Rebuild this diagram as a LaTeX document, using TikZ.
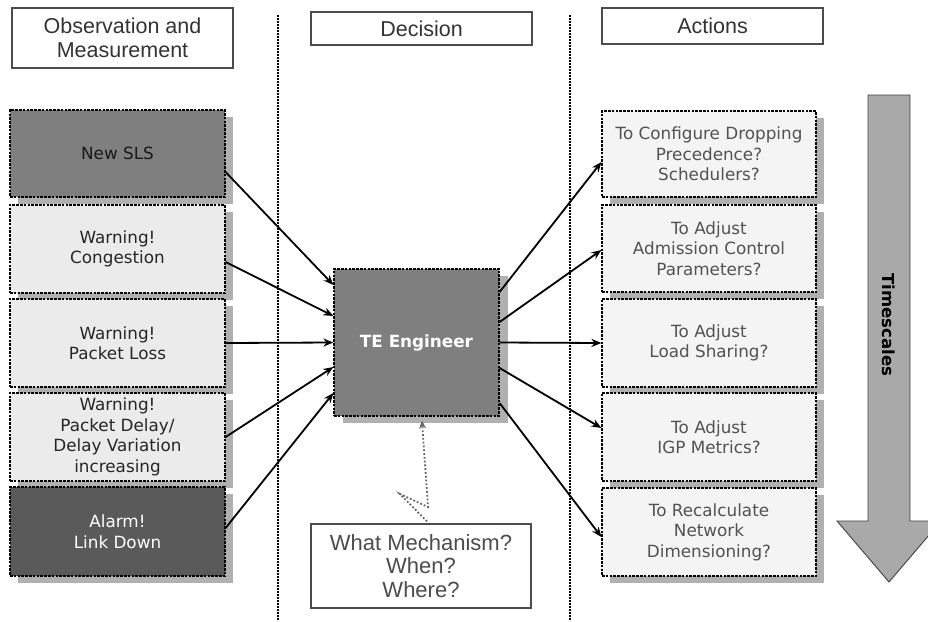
\documentclass[tikz,border=0pt]{standalone}
\usepackage{fontspec}
\setmainfont{DejaVu Sans}
\newfontfamily\hdrfont{Liberation Sans}
\usetikzlibrary{arrows.meta,shadows}
\definecolor{midgray}{HTML}{7F7F7F}
\definecolor{darkbox}{HTML}{5A5A5A}
\definecolor{lightbox}{HTML}{EBEBEB}
\definecolor{paleBox}{HTML}{F4F4F4}
\definecolor{shadowgray}{HTML}{B0B0B0}
\definecolor{arrowgray}{HTML}{A9A9A9}
\tikzset{
  hdr/.style={draw=black!70, line width=1.2pt, fill=white, align=center, inner sep=0pt,
    text=black!80, font=\hdrfont\fontsize{21.5}{24}\selectfont},
  dashbox/.style={draw=black, dash pattern=on 2.6pt off 1.2pt, line width=1.2pt,
    align=center, inner sep=0pt, font=\fontsize{16.8}{20.5}\selectfont,
    drop shadow={shadow xshift=8pt, shadow yshift=-7pt, fill=shadowgray, opacity=1}},
  obsbox/.style={dashbox, minimum width=215pt},
  actbox/.style={dashbox, minimum width=214pt, fill=paleBox, text=black!68},
  divider/.style={draw=black, line width=2pt, dash pattern=on 2pt off 1pt},
  feed/.style={draw=black, line width=1.8pt, -{Stealth[length=10pt,width=8pt]}},
}
\begin{document}
\begin{tikzpicture}[x=1pt,y=-1pt]
\useasboundingbox (0,0) rectangle (928,621);

% column headings
\node[hdr, minimum width=221pt, minimum height=60pt] (hobs) at (122.5,38) {Observation and\\Measurement};
\node[hdr, minimum width=221pt, minimum height=33pt] (hdec) at (421.5,28.5) {Decision};
\node[hdr, minimum width=221pt, minimum height=36pt] (hact) at (712.5,26) {Actions};

% column separators
\draw[divider] (278,15) -- (278,621);
\draw[divider] (570,15) -- (570,621);

% observation and measurement events
\node[obsbox, fill=midgray, text=black!90, minimum height=87pt] (o1) at (117.5,153.5) {New SLS};
\node[obsbox, fill=lightbox, text=black!85, minimum height=88pt] (o2) at (117.5,249) {Warning!\\Congestion};
\node[obsbox, fill=lightbox, text=black!85, minimum height=88pt] (o3) at (117.5,343) {Warning!\\Packet Loss};
\node[obsbox, fill=lightbox, text=black!85, minimum height=88pt] (o4) at (117.5,437) {Warning!\\Packet Delay/\\Delay Variation\\increasing};
\node[obsbox, fill=darkbox, text=white, minimum height=89pt] (o5) at (117.5,531.5) {Alarm!\\Link Down};

% decision maker
\node[draw=black, dash pattern=on 2.6pt off 1.2pt, line width=1.2pt, fill=midgray,
  minimum width=165pt, minimum height=147pt, inner sep=0pt, text=white,
  font=\bfseries\fontsize{16.8}{20}\selectfont,
  drop shadow={shadow xshift=9pt, shadow yshift=-7pt, fill=shadowgray, opacity=1}]
  (te) at (416.5,342.5) {TE Engineer};

\node[draw=black!70, line width=1.2pt, fill=white, minimum width=220pt, minimum height=84pt,
  inner sep=0pt, align=center, text=black!70, font=\hdrfont\fontsize{22}{23.5}\selectfont]
  (mech) at (421,566) {What Mechanism?\\When?\\Where?};

% possible actions
\node[actbox, minimum height=86pt] (a1) at (709,154) {To Configure Dropping\\Precedence?\\Schedulers?};
\node[actbox, minimum height=87pt] (a2) at (709,248.5) {To Adjust\\Admission Control\\Parameters?};
\node[actbox, minimum height=88pt] (a3) at (709,343) {To Adjust\\Load Sharing?};
\node[actbox, minimum height=88pt] (a4) at (709,437) {To Adjust\\IGP Metrics?};
\node[actbox, minimum height=88pt] (a5) at (709,532) {To Recalculate\\Network\\Dimensioning?};

% inputs to the engineer
\draw[feed] ([yshift=-18.5pt]o1.east) -- ([yshift=57.5pt]te.west);
\draw[feed] ([yshift=-13pt]o2.east) -- ([yshift=26.5pt]te.west);
\draw[feed] (o3.east) -- (te.west);
\draw[feed] (o4.east) -- ([yshift=-24.5pt]te.west);
\draw[feed] ([yshift=3.5pt]o5.east) -- ([yshift=-50.5pt]te.west);

% outputs to the actions
\draw[feed] ([yshift=50.5pt]te.east) -- ([yshift=-8pt]a1.west);
\draw[feed] ([yshift=20.5pt]te.east) -- ([yshift=-1.5pt]a2.west);
\draw[feed] (te.east) -- (a3.west);
\draw[feed] ([yshift=-25.5pt]te.east) -- ([yshift=9pt]a4.west);
\draw[feed] ([yshift=-60.5pt]te.east) -- ([yshift=-5pt]a5.west);

% open questions feeding the decision
\coordinate (q1) at (400,494);
\coordinate (q2) at (428,507);
\draw[black!60, line width=1.8pt, dotted, -{Stealth[length=8pt,width=7pt]}]
  ([xshift=6pt,yshift=2pt]mech.north) -- (q1) -- (q2) -- ([xshift=5.5pt,yshift=-4pt]te.south);

% timescale arrow
\begin{scope}
  \clip (0,0) rectangle (928,621);
  \draw[draw=black!75, line width=0.9pt, fill=arrowgray]
    (868,95) -- (910,95) -- (910,521) -- (941,521) -- (889,582) -- (837,521) -- (868,521) -- cycle;
\end{scope}
\node[rotate=-90, font=\bfseries\fontsize{16.5}{18}\selectfont, text=black] (ts) at (889,325) {Timescales};
\end{tikzpicture}
\end{document}
